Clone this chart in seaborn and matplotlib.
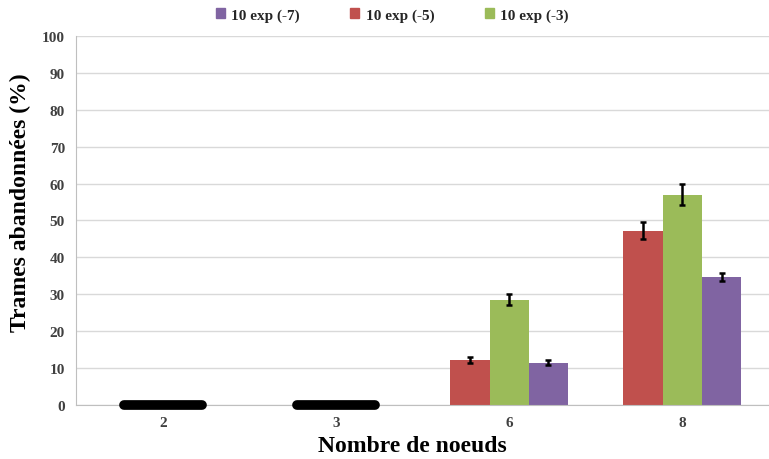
import numpy as np
import pandas as pd
import seaborn as sns
import matplotlib.pyplot as plt

categories = ['2', '3', '6', '8']
series = ['10 exp (-5)', '10 exp (-3)', '10 exp (-7)']
vals_e5 = [0, 0, 12.2, 47.2]
vals_e3 = [0, 0, 28.6, 57.0]
vals_e7 = [0, 0, 11.5, 34.7]
err_e5 = [0, 0, 0.8, 2.3]
err_e3 = [0, 0, 1.5, 2.8]
err_e7 = [0, 0, 0.6, 1.2]
legend_order = ['10 exp (-7)', '10 exp (-5)', '10 exp (-3)']
colors = {'10 exp (-5)': '#C0504D', '10 exp (-3)': '#9BBB59', '10 exp (-7)': '#8064A2'}

rows = []
for s, v, e in zip(series, [vals_e5, vals_e3, vals_e7], [err_e5, err_e3, err_e7]):
    for c, vi, ei in zip(categories, v, e):
        rows.append({'noeuds': c, 'serie': s, 'val': vi, 'err': ei})
df = pd.DataFrame(rows)

sns.set_style('white')
plt.rcParams['font.family'] = ['Liberation Serif', 'DejaVu Serif']

fig = plt.figure(figsize=(7.69, 4.6), dpi=100)
ax = fig.add_axes([0.099, 0.117, 0.901, 0.803])

sns.barplot(data=df, x='noeuds', y='val', hue='serie', order=categories,
            hue_order=series, palette=colors, width=0.68, errorbar=None,
            saturation=1, linewidth=0, ax=ax, legend=False)

# error bars on top of each bar
for cont, s in zip(ax.containers, series):
    sub = df[df['serie'] == s].set_index('noeuds').loc[categories]
    for patch, (_, r) in zip(cont.patches, sub.iterrows()):
        if r['val'] > 0:
            xc = patch.get_x() + patch.get_width() / 2
            ax.errorbar(xc, r['val'], yerr=r['err'], color='black', lw=1.8,
                        capsize=2.5, capthick=1.8, zorder=5)

# groups with all zero values drawn as thick black line
for i, c in enumerate(categories):
    if df[df['noeuds'] == c]['val'].sum() == 0:
        ax.hlines(0, i - 0.225, i + 0.225, color='black', lw=7, capstyle='round',
                  zorder=6, clip_on=False)

ax.set_ylim(0, 100)
ax.set_xlim(-0.5, len(categories) - 0.5)
ax.set_yticks(np.arange(0, 101, 10))
ax.yaxis.grid(True, color='#d9d9d9', lw=1)
ax.set_axisbelow(True)
for sp in ['top', 'right']:
    ax.spines[sp].set_visible(False)
for sp in ['left', 'bottom']:
    ax.spines[sp].set_color('#bfbfbf')
ax.set_xticks(np.arange(-0.5, len(categories), 1.0), minor=True)
ax.tick_params(axis='x', which='major', length=0, pad=8)
ax.tick_params(axis='x', which='minor', length=4, color='#bfbfbf')
ax.tick_params(axis='y', length=4, color='#bfbfbf', pad=4)
for lab in ax.get_xticklabels() + ax.get_yticklabels():
    lab.set_fontweight('bold')
    lab.set_fontsize(11)
    lab.set_color('#404040')

ax.set_xlabel('Nombre de noeuds', fontsize=17, fontweight='bold', color='black')
ax.set_ylabel('Trames abandonnées (%)', fontsize=17, fontweight='bold', color='black')
ax.xaxis.set_label_coords(0.485, -0.082)
ax.yaxis.set_label_coords(-0.065, 0.55)

handles = [plt.Rectangle((0, 0), 1, 1, color=colors[s]) for s in legend_order]
fig.legend(handles, legend_order, loc='upper center', bbox_to_anchor=(0.51, 1.01),
           ncol=3, frameon=False, prop={'weight': 'bold', 'size': 11},
           handlelength=0.6, handleheight=0.6, handletextpad=0.4, columnspacing=3.3)

plt.savefig('out.png', dpi=100)
